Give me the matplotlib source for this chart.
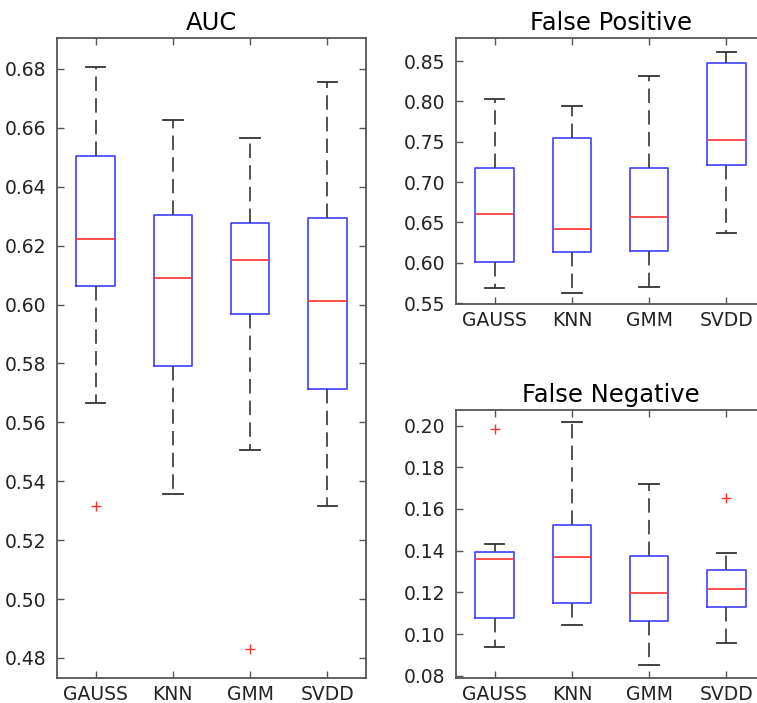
import matplotlib.pyplot as plt

methods = ["GAUSS", "KNN", "GMM", "SVDD"]

# AUC
auc_whishi = [0.6805, 0.6626, 0.6564, 0.6755]
auc_q3 = [0.6503, 0.6305, 0.6278, 0.6293]
auc_med = [0.6224, 0.6089, 0.6151, 0.6011]
auc_q1 = [0.6062, 0.5790, 0.5967, 0.5714]
auc_whislo = [0.5665, 0.5358, 0.5507, 0.5316]
auc_fliers = [[0.5316], [], [0.4832], []]

# False Positive
fp_whishi = [0.8034, 0.7948, 0.8310, 0.8616]
fp_q3 = [0.7173, 0.7552, 0.7170, 0.8480]
fp_med = [0.6605, 0.6423, 0.6570, 0.7520]
fp_q1 = [0.6007, 0.6139, 0.6150, 0.7214]
fp_whislo = [0.5694, 0.5624, 0.5706, 0.6374]
fp_fliers = [[], [], [], []]

# False Negative
fn_whishi = [0.1431, 0.2018, 0.1722, 0.1390]
fn_q3 = [0.1393, 0.1522, 0.1375, 0.1306]
fn_med = [0.1362, 0.1372, 0.1199, 0.1214]
fn_q1 = [0.1076, 0.1148, 0.1064, 0.1128]
fn_whislo = [0.0936, 0.1044, 0.0849, 0.0955]
fn_fliers = [[0.1986], [], [], [0.1655]]


def make_stats(lo, q1, med, q3, hi, fl):
    stats = []
    for i in range(len(methods)):
        stats.append({"whislo": lo[i], "q1": q1[i], "med": med[i],
                      "q3": q3[i], "whishi": hi[i], "fliers": fl[i],
                      "label": methods[i]})
    return stats


def draw(ax, stats, title, ylim, yticks, fmt):
    ax.bxp(stats, positions=[1, 2, 3, 4], widths=0.5, showfliers=True,
           boxprops=dict(color="#4040ff", linewidth=1.2),
           medianprops=dict(color="#ff3030", linewidth=1.2),
           whiskerprops=dict(color="#444444", linewidth=1.3, linestyle=(0, (8, 4))),
           capprops=dict(color="#333333", linewidth=1.3),
           flierprops=dict(marker="+", markeredgecolor="#ff3030",
                           markersize=7, markeredgewidth=1.0, linestyle="none"))
    ax.set_xlim(0.5, 4.5)
    ax.set_ylim(*ylim)
    ax.set_yticks(yticks)
    ax.set_yticklabels([fmt % v for v in yticks])
    ax.set_xticks([1, 2, 3, 4])
    ax.set_xticklabels(methods)
    ax.set_title(title, fontsize=17.5, pad=6)
    ax.tick_params(direction="in", top=True, right=True, length=5,
                   color="#555555", labelsize=13.5, width=1.0, labelcolor="#222222")
    ax.tick_params(axis="y", pad=8)
    ax.tick_params(axis="x", pad=5)
    for s in ax.spines.values():
        s.set_color("#555555")
        s.set_linewidth(1.3)


W, H = 757, 703
fig = plt.figure(figsize=(W / 100, H / 100), dpi=100)


def axes_px(left, right, top, bottom):
    return fig.add_axes([left / W, 1 - bottom / H, (right - left) / W, (bottom - top) / H])


ax1 = axes_px(57, 366, 38, 678)
ax2 = axes_px(456, 765, 38, 304)
ax3 = axes_px(456, 765, 410, 678)

draw(ax1, make_stats(auc_whislo, auc_q1, auc_med, auc_q3, auc_whishi, auc_fliers),
     "AUC", (0.4732, 0.6905), [0.48, 0.50, 0.52, 0.54, 0.56, 0.58, 0.60, 0.62, 0.64, 0.66, 0.68], "%.2f")
draw(ax2, make_stats(fp_whislo, fp_q1, fp_med, fp_q3, fp_whishi, fp_fliers),
     "False Positive", (0.549, 0.8785), [0.55, 0.60, 0.65, 0.70, 0.75, 0.80, 0.85], "%.2f")
draw(ax3, make_stats(fn_whislo, fn_q1, fn_med, fn_q3, fn_whishi, fn_fliers),
     "False Negative", (0.0789, 0.2075), [0.08, 0.10, 0.12, 0.14, 0.16, 0.18, 0.20], "%.2f")

fig.savefig("out.png", dpi=100)
